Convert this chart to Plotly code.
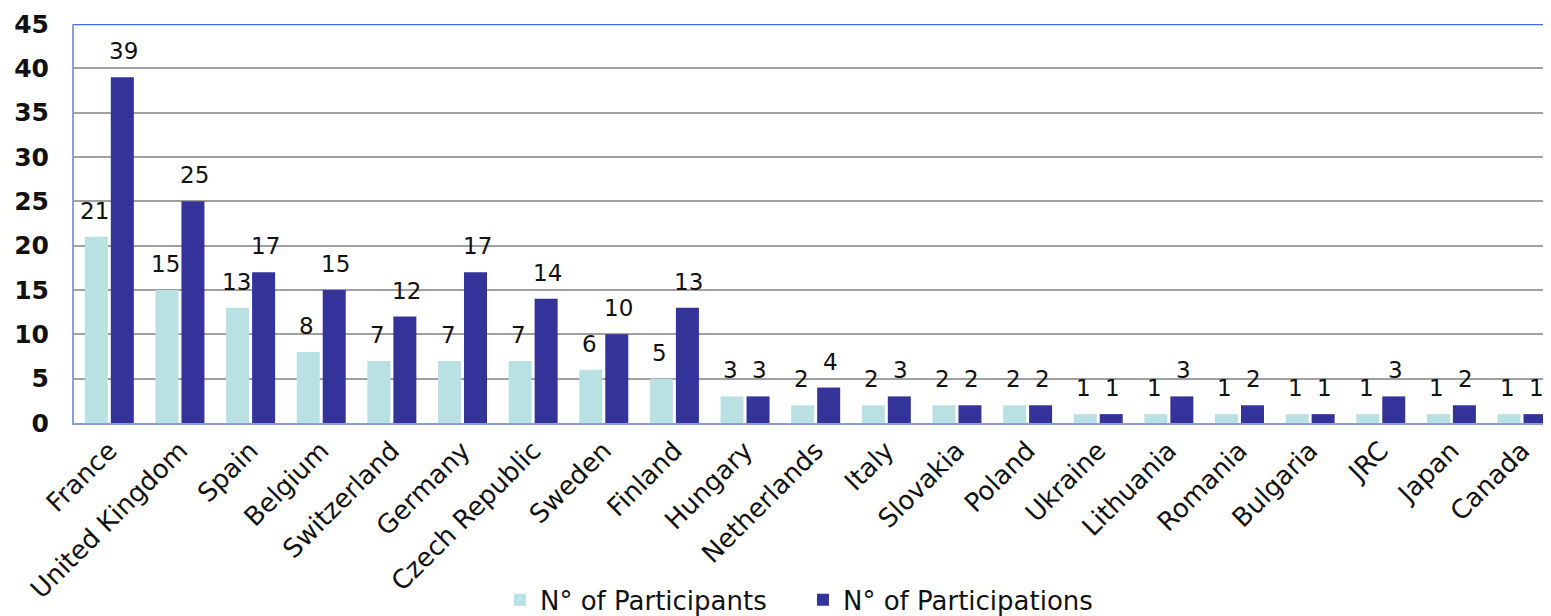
import plotly.graph_objects as go

countries = ["France", "United Kingdom", "Spain", "Belgium", "Switzerland", "Germany",
             "Czech Republic", "Sweden", "Finland", "Hungary", "Netherlands", "Italy",
             "Slovakia", "Poland", "Ukraine", "Lithuania", "Romania", "Bulgaria", "JRC",
             "Japan", "Canada"]
participants = [21, 15, 13, 8, 7, 7, 7, 6, 5, 3, 2, 2, 2, 2, 1, 1, 1, 1, 1, 1, 1]
participations = [39, 25, 17, 15, 12, 17, 14, 10, 13, 3, 4, 3, 2, 2, 1, 3, 2, 1, 3, 2, 1]

FONT = "Verdana, DejaVu Sans, sans-serif"
LABEL_FONT = dict(family=FONT, size=23, color="#111111")

fig = go.Figure()
fig.add_trace(go.Bar(
    x=countries, y=participants, name="N° of Participants",
    marker=dict(color="#b9e1e4", line=dict(width=0)),
))
fig.add_trace(go.Bar(
    x=countries, y=participations, name="N° of Participations",
    marker=dict(color="#333399", line=dict(width=0)),
))

# value labels above bars
for series, dx in ((participants, -14.5), (participations, 14.5)):
    for c, v in zip(countries, series):
        fig.add_annotation(x=c, y=v, text=str(v), showarrow=False, xanchor="center",
                           yanchor="bottom", xshift=dx, yshift=11, font=LABEL_FONT)

fig.add_shape(type="line", xref="paper", yref="y", x0=0, x1=1, y0=45, y1=45,
              line=dict(color="#3a6fd8", width=2.5))

fig.update_layout(
    width=1543, height=616,
    margin=dict(l=66, r=0, t=16, b=201),
    paper_bgcolor="white", plot_bgcolor="white",
    barmode="group", bargap=0.264, bargroupgap=0.115,
    font=dict(family=FONT, color="#111111"),
    showlegend=True,
    legend=dict(orientation="h", x=0.2884, xanchor="left", y=-0.443, yanchor="middle",
                font=dict(family=FONT, size=26, color="#111111"),
                entrywidth=258, entrywidthmode="pixels",
                itemwidth=30, traceorder="normal"),
    xaxis=dict(range=[-0.5, 20.41], tickangle=-45, showgrid=False, automargin=False,
               showline=True, linecolor="#8d9fcc", linewidth=2,
               tickfont=dict(family=FONT, size=26, color="#111111"),
               ticks=""),
    yaxis=dict(range=[0, 45], dtick=5, showgrid=True, gridcolor="#a0a0a0", gridwidth=2,
               zeroline=False, showline=True, linecolor="#8d9fcc", linewidth=2,
               automargin=False, ticklabeloverflow="allow",
               tickfont=dict(family="DejaVu Sans, sans-serif", size=25, color="#111111",
                             weight="bold"),
               ticks="", ticklabelstandoff=18),
)

fig.write_html("out.html")
